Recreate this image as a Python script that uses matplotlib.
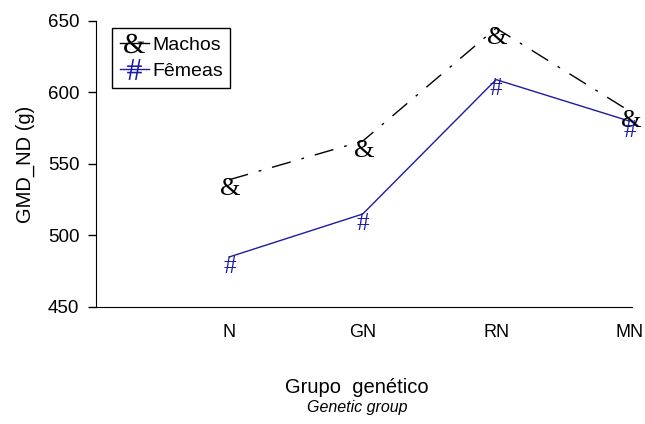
import matplotlib.pyplot as plt
from matplotlib.lines import Line2D

# Data
GROUPS = ['N', 'GN', 'RN', 'MN']
MACHOS = [539, 566, 645, 587]
FEMEAS = [485, 515, 609, 580]

plt.rcParams['font.family'] = ['Liberation Sans', 'DejaVu Sans']
plt.rcParams['mathtext.fontset'] = 'custom'
plt.rcParams['mathtext.rm'] = 'Liberation Serif'
plt.rcParams['mathtext.it'] = 'Liberation Serif'

fig = plt.figure(figsize=(6.45, 4.24), dpi=100)
ax = fig.add_axes([0.1488, 0.276, 0.8312, 0.6745])

x_pos = list(range(1, len(GROUPS) + 1))
ax.plot(x_pos, MACHOS, color='black', lw=1, dashes=(14, 8, 2, 8))
ax.plot(x_pos, FEMEAS, color='#1c1ca0', lw=1)

# text-style markers hanging just below each point
for xp, yv in zip(x_pos, MACHOS):
    ax.annotate('&', (xp, yv), xytext=(1, 1), textcoords='offset points',
                ha='center', va='top', fontsize=19, family='Liberation Serif',
                color='black')
for xp, yv in zip(x_pos, FEMEAS):
    ax.annotate('#', (xp, yv), xytext=(0, 1), textcoords='offset points',
                ha='center', va='top', fontsize=18, family='Liberation Serif',
                color='#1c1ca0')

ax.set_xlim(0, 4.02)
ax.set_ylim(450, 650)
ax.set_yticks([450, 500, 550, 600, 650])
ax.set_xticks(x_pos)
ax.set_xticklabels(GROUPS)
ax.tick_params(axis='x', length=0, pad=12, labelsize=13)
ax.tick_params(axis='y', direction='out', length=6, width=1, pad=6,
               labelsize=13.5)
ax.spines['top'].set_visible(False)
ax.spines['right'].set_visible(False)

ax.set_ylabel('GMD_ND (g)', fontsize=14.5, labelpad=9)
fig.text(0.5535, 0.087, 'Grupo  genético', ha='center', va='center',
         fontsize=14.5)
fig.text(0.5535, 0.040, 'Genetic group', ha='center', va='center',
         fontsize=11.5, style='italic')

handles = [
    Line2D([], [], color='black', lw=1, marker='$&$', markersize=15,
           markeredgewidth=0),
    Line2D([], [], color='#1c1ca0', lw=1, marker='$\\#$', markersize=15,
           markeredgewidth=0),
]
leg = ax.legend(handles, ['Machos', 'Fêmeas'], loc='upper left',
                bbox_to_anchor=(0.03, 0.975), borderaxespad=0,
                fancybox=False, edgecolor='black', framealpha=1,
                fontsize=14, handlelength=1.5, handletextpad=0.15,
                borderpad=0.4, labelspacing=0.45)
leg.get_frame().set_linewidth(1)

plt.savefig('out.png', dpi=100)
